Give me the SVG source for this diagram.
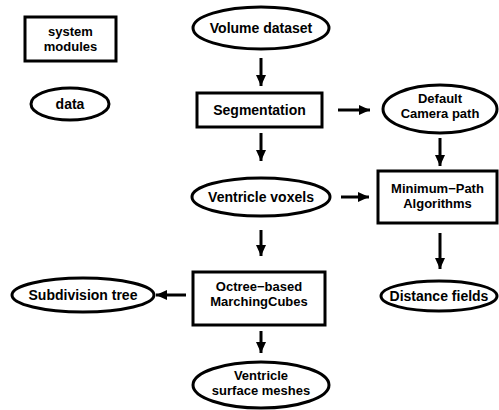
<svg xmlns="http://www.w3.org/2000/svg" width="499" height="410" viewBox="0 0 499 410">
<defs>
<style>
.n{fill:#fff;stroke:#000;stroke-width:3}
.t{font-family:"Liberation Sans",Arial,sans-serif;font-weight:bold;font-size:14px;text-anchor:middle;fill:#000}
.t2{font-size:13px}
.c{stroke:#000;stroke-width:3;fill:none}
</style>
<marker id="ah" markerUnits="userSpaceOnUse" markerWidth="12" markerHeight="12" viewBox="0 0 12 12" refX="11" refY="6" orient="auto">
<path d="M0,1 L11,6 L0,11 Z" fill="#000"/>
</marker>
</defs>
<rect width="499" height="410" fill="#fff"/>
<g id="connectors">
<line class="c" x1="261" y1="58" x2="261" y2="86" marker-end="url(#ah)"/>
<line class="c" x1="338" y1="110" x2="370" y2="110" marker-end="url(#ah)"/>
<line class="c" x1="440" y1="138" x2="440" y2="166" marker-end="url(#ah)"/>
<line class="c" x1="261" y1="133" x2="261" y2="161" marker-end="url(#ah)"/>
<line class="c" x1="341" y1="197" x2="369" y2="197" marker-end="url(#ah)"/>
<line class="c" x1="261" y1="230" x2="261" y2="256" marker-end="url(#ah)"/>
<line class="c" x1="186" y1="295" x2="156" y2="295" marker-end="url(#ah)"/>
<line class="c" x1="440" y1="233" x2="440" y2="269" marker-end="url(#ah)"/>
<line class="c" x1="261" y1="331" x2="261" y2="353" marker-end="url(#ah)"/>
</g>
<g id="legend-modules">
<rect class="n" x="25" y="17" width="91" height="44"/>
<text class="t t2" x="70.5" y="36">system</text>
<text class="t t2" x="70.5" y="51">modules</text>
</g>
<g id="legend-data">
<ellipse class="n" cx="70" cy="104" rx="39" ry="16"/>
<text class="t" x="70" y="109">data</text>
</g>
<g id="volume-dataset">
<ellipse class="n" cx="261" cy="28" rx="68" ry="21"/>
<text class="t" x="261" y="33">Volume dataset</text>
</g>
<g id="segmentation">
<rect class="n" x="197" y="93" width="125" height="34"/>
<text class="t" x="259.5" y="115">Segmentation</text>
</g>
<g id="default-camera-path">
<ellipse class="n" cx="440" cy="109" rx="57" ry="24"/>
<text class="t t2" x="440" y="103">Default</text>
<text class="t t2" x="440" y="118">Camera path</text>
</g>
<g id="ventricle-voxels">
<ellipse class="n" cx="261" cy="197" rx="69" ry="19"/>
<text class="t" x="261" y="202">Ventricle voxels</text>
</g>
<g id="minimum-path">
<rect class="n" x="378" y="171" width="119" height="52"/>
<text class="t t2" x="437.5" y="193">Minimum−Path</text>
<text class="t t2" x="437.5" y="208">Algorithms</text>
</g>
<g id="octree-mc">
<rect class="n" x="193" y="272" width="132" height="53"/>
<text class="t t2" x="259" y="291">Octree−based</text>
<text class="t t2" x="259" y="306">MarchingCubes</text>
</g>
<g id="subdivision-tree">
<ellipse class="n" cx="83" cy="295" rx="71" ry="17"/>
<text class="t" x="83" y="300">Subdivision tree</text>
</g>
<g id="distance-fields">
<ellipse class="n" cx="439" cy="296" rx="58" ry="15"/>
<text class="t" x="439" y="301">Distance fields</text>
</g>
<g id="surface-meshes">
<ellipse class="n" cx="261" cy="385" rx="68" ry="23"/>
<text class="t t2" x="261" y="380">Ventricle</text>
<text class="t t2" x="261" y="395">surface meshes</text>
</g>
</svg>
